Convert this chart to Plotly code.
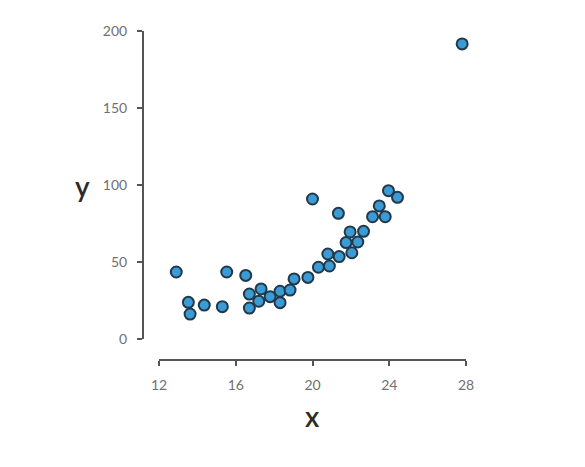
import plotly.graph_objects as go

x_vals = [12.9, 13.53, 13.62, 14.36, 15.3, 15.53, 16.52, 16.71, 16.71, 17.2,
          17.32, 17.79, 18.31, 18.31, 18.83, 19.04, 19.76, 20.0, 20.31, 20.8,
          20.88, 21.35, 21.39, 21.75, 21.96, 22.05, 22.36, 22.66, 23.13, 23.48,
          23.79, 23.96, 24.43, 27.8]
y_vals = [43.5, 23.8, 16.2, 22.0, 21.0, 43.5, 41.3, 29.2, 20.1, 24.5,
          32.5, 27.5, 31.0, 23.6, 31.8, 39.0, 40.0, 90.9, 46.6, 55.2,
          47.4, 81.6, 53.5, 62.6, 69.5, 56.0, 63.0, 69.9, 79.4, 86.4,
          79.4, 96.3, 92.0, 191.6]
x_ticks = [12, 16, 20, 24, 28]
y_ticks = [0, 50, 100, 150, 200]

W, H = 585, 467
OFF = 8  # page body margin
left, right, top, bottom = 143, 466, 31, 360   # screenshot px of axis-line frame
plot_left, plot_bottom = 159, 339
pw = right - left
ph = bottom - top


def fx(px):
    return (px - left) / pw


def fy(py):
    return (bottom - py) / ph


fig = go.Figure(go.Scatter(
    x=x_vals, y=y_vals, mode="markers",
    marker=dict(size=11, color="#3a9bd5", line=dict(color="#22394a", width=2)),
    cliponaxis=False,
))

axis_common = dict(
    showgrid=False, zeroline=False, showline=True, linecolor="#555555", linewidth=2,
    ticks="outside", ticklen=5, tickwidth=2, tickcolor="#555555",
    tickfont=dict(family="Lato", size=14, color="#707070"),
    ticklabelstandoff=7,
)

title_font = dict(family="Lato", size=28, color="#2b2b2b", weight=600)

fig.update_layout(
    width=W, height=H,
    margin=dict(l=left - OFF, r=W - right + OFF, t=top - OFF, b=H - bottom + OFF, pad=0),
    paper_bgcolor="white", plot_bgcolor="white",
    showlegend=False,
    xaxis=dict(range=[12, 28], tickvals=x_ticks, domain=[fx(plot_left), 1],
               anchor="free", position=0, **axis_common),
    yaxis=dict(range=[0, 200], tickvals=y_ticks, domain=[fy(plot_bottom), 1],
               anchor="free", position=0, **axis_common),
    annotations=[
        dict(text="x", x=fx(312), y=fy(416), xref="paper", yref="paper",
             showarrow=False, xanchor="center", yanchor="middle", font=title_font),
        dict(text="y", x=fx(82), y=fy(186), xref="paper", yref="paper",
             showarrow=False, xanchor="center", yanchor="middle", font=title_font),
    ],
)

fig.write_html("out.html")
